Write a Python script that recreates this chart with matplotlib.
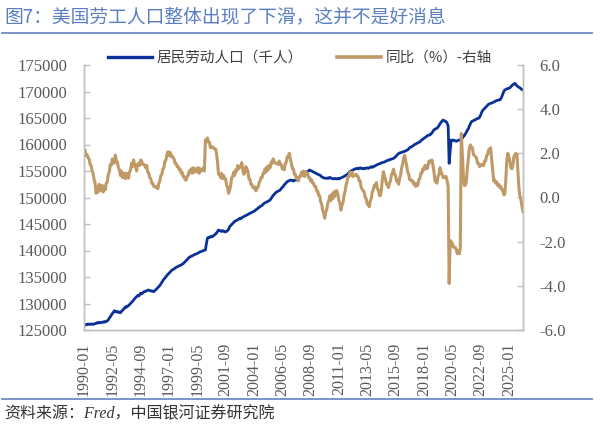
import matplotlib
matplotlib.use('Agg')
import matplotlib.pyplot as plt
from matplotlib.lines import Line2D
import numpy as np

# ---------------- data ----------------
tick_labels = ['1990-01', '1992-05', '1994-09', '1997-01', '1999-05', '2001-09',
               '2004-01', '2006-05', '2008-09', '2011-01', '2013-05', '2015-09',
               '2018-01', '2020-05', '2022-09', '2025-01']

# civilian labor force, thousands, monthly from 1990-01
labor_force = [
    125940, 125900, 126050, 126000, 126150, 126100, 126050, 126150, 126100, 126050, 126150, 126200,  # 1990
    126250, 126380, 126300, 126450, 126350, 126400, 126500, 126450, 126570, 126500, 126650, 126700,  # 1991
    126900, 127260, 127500, 127800, 128100, 128300, 128640, 128450, 128500, 128350, 128450, 128300,  # 1992
    128260, 128500, 128700, 128900, 129100, 129390, 129300, 129500, 129600, 129800, 130000, 130200,  # 1993
    130400, 130660, 130900, 131100, 131300, 131500, 131400, 131700, 131920, 131800, 132000, 132200,  # 1994
    132200, 132350, 132400, 132500, 132550, 132450, 132350, 132400, 132300, 132230, 132450, 132600,  # 1995
    132800, 133000, 133180, 133400, 133700, 134000, 134300, 134600, 134800, 135060, 135300, 135500,  # 1996
    135700, 135900, 136100, 136320, 136400, 136500, 136700, 136800, 136900, 137000, 137100, 137200,  # 1997
    137260, 137400, 137500, 137700, 137900, 138100, 138300, 138500, 138700, 138830, 138900, 139000,  # 1998
    139100, 139200, 139300, 139350, 139450, 139550, 139650, 139780, 139800, 139900, 140000, 140050,  # 1999
    140090, 141300, 142300, 142500, 142400, 142600, 142700, 142600, 142800, 142920, 143100, 143300,  # 2000
    143600, 143870, 143800, 143700, 143600, 143750, 143650, 143500, 143550, 143600, 143800, 144000,  # 2001
    144500, 144700, 144900, 145130, 145300, 145500, 145600, 145700, 145800, 145900, 146080, 146000,  # 2002
    146200, 146300, 146400, 146500, 146600, 146700, 146800, 146900, 147030, 147100, 147200, 147300,  # 2003
    147400, 147500, 147700, 147800, 148000, 148100, 148290, 148400, 148500, 148700, 148900, 149000,  # 2004
    149100, 149200, 149300, 149400, 149530, 149800, 150100, 150400, 150600, 150800, 151000, 151100,  # 2005
    151200, 151300, 151420, 151700, 151900, 152100, 152400, 152600, 152800, 153000, 153100, 153200,  # 2006
    153300, 153250, 153200, 153100, 153250, 153300, 153300, 153500, 153700, 153900, 154100, 154300,  # 2007
    154500, 154400, 154600, 154700, 154800, 154900, 155000, 155190, 155100, 155000, 154900, 154800,  # 2008
    154700, 154600, 154500, 154400, 154300, 154250, 154100, 153900, 153800, 153700, 153650, 153620,  # 2009
    153620, 153700, 153600, 153800, 153700, 153600, 153550, 153500, 153600, 153550, 153500, 153600,  # 2010
    153500, 153620, 153700, 153800, 153850, 153950, 154100, 154200, 154250, 154500, 154700, 154900,  # 2011
    155000, 155100, 155200, 155300, 155400, 155450, 155500, 155400, 155500, 155600, 155500, 155450,  # 2012
    155500, 155400, 155500, 155550, 155600, 155500, 155600, 155700, 155810, 155700, 155800, 155900,  # 2013
    156000, 156100, 156200, 156300, 156350, 156440, 156500, 156600, 156650, 156700, 156800, 156900,  # 2014
    157000, 157050, 157100, 157200, 157250, 157300, 157390, 157500, 157700, 157900, 158100, 158300,  # 2015
    158400, 158450, 158500, 158600, 158640, 158700, 158800, 158900, 159000, 159200, 159400, 159500,  # 2016
    159600, 159700, 159900, 160000, 160100, 160200, 160300, 160400, 160500, 160700, 160900, 161000,  # 2017
    161170, 161300, 161400, 161600, 161700, 161800, 161800, 162000, 162200, 162500, 162740, 162900,  # 2018
    163000, 163060, 163300, 163600, 163900, 164200, 164400, 164620, 164500, 164400, 164300, 164000,  # 2019
    163500, 156440, 158800, 160850, 160700, 160850, 160800, 160700, 160600, 160700, 160800, 160850,  # 2020
    160850, 161000, 161200, 161480, 161700, 162000, 162300, 162700, 163000, 163500, 163900, 164300,  # 2021
    164400, 164500, 164600, 164700, 164800, 164900, 164940, 165100, 165500, 166000, 166400, 166600,  # 2022
    166820, 167000, 167200, 167400, 167600, 167700, 167760, 167800, 167900, 168000, 168100, 168200,  # 2023
    168300, 168350, 168400, 168400, 168600, 169000, 169500, 170000, 170280, 170400, 170500, 170550,  # 2024
    170600, 170700, 170900, 171100, 171300, 171400, 171540, 171300, 171100, 170910, 170800, 170700,  # 2025
    170500, 170400, 170280,                                                                          # 2026
]

# year-over-year change, %
yoy = [
    2.05, 2.15, 1.90, 1.95, 1.80, 1.75, 1.50, 1.45, 1.20, 1.10, 0.80, 0.64,  # 1990
    0.19, 0.50, 0.25, 0.60, 0.45, 0.30, 0.55, 0.25, 0.50, 0.35, 0.65, 0.70,  # 1991
    1.05, 1.15, 1.50, 1.45, 1.75, 1.70, 1.55, 1.92, 1.65, 1.60, 1.35, 1.25,  # 1992
    1.00, 1.20, 0.90, 1.00, 1.10, 0.85, 1.10, 0.90, 0.87, 1.15, 1.25, 1.55,  # 1993
    1.40, 1.70, 1.50, 1.40, 1.20, 1.50, 1.55, 1.45, 1.70, 1.65, 1.50, 1.50,  # 1994
    1.45, 1.35, 1.45, 1.15, 1.10, 0.90, 0.85, 0.65, 0.65, 0.50, 0.50, 0.45,  # 1995
    0.50, 0.40, 0.65, 0.75, 1.00, 1.05, 1.30, 1.35, 1.65, 1.70, 1.95, 2.07,  # 1996
    1.90, 2.05, 1.85, 1.90, 1.80, 1.75, 1.55, 1.55, 1.40, 1.40, 1.25, 1.30,  # 1997
    1.10, 1.15, 0.95, 0.95, 0.80, 0.79, 0.95, 1.00, 1.20, 1.15, 1.30, 1.10,  # 1998
    1.35, 1.15, 1.30, 1.30, 1.15, 1.35, 1.10, 1.30, 1.20, 1.25, 1.35, 1.20,  # 1999
    2.60, 2.50, 2.70, 2.55, 2.50, 2.25, 2.30, 2.30, 2.25, 2.20, 2.20, 2.00,  # 2000
    1.60, 1.05, 1.05, 0.90, 1.10, 0.85, 1.00, 0.85, 0.85, 0.55, 0.45, 0.19,  # 2001
    0.35, 0.55, 0.90, 0.95, 1.15, 1.00, 1.25, 1.20, 1.45, 1.30, 1.38, 1.42,  # 2002
    1.58, 1.25, 1.05, 1.15, 1.40, 1.28, 1.20, 0.85, 0.82, 0.60, 0.58, 0.45,  # 2003
    0.42, 0.48, 0.30, 0.45, 0.46, 0.65, 0.75, 0.90, 0.90, 1.10, 1.10, 1.30,  # 2004
    1.15, 1.40, 1.25, 1.45, 1.35, 1.60, 1.55, 1.75, 1.60, 1.58, 1.55, 1.52,  # 2005
    1.50, 1.65, 1.50, 1.50, 1.30, 1.28, 1.25, 1.55, 1.60, 1.85, 1.85, 2.00,  # 2006
    1.75, 1.55, 1.30, 1.30, 1.05, 1.05, 0.85, 0.90, 0.75, 0.95, 0.95, 1.15,  # 2007
    1.00, 1.20, 0.95, 1.15, 1.12, 1.10, 0.90, 0.90, 0.75, 0.80, 0.65, 0.64,  # 2008
    0.50, 0.50, 0.30, 0.30, 0.10, 0.08, -0.20, -0.30, -0.60, -0.70, -0.94, -0.65,  # 2009
    -0.55, -0.25, -0.15, 0.08, -0.15, 0.15, -0.05, 0.25, 0.05, 0.30, 0.30, 0.15,  # 2010
    -0.15, -0.25, -0.57, -0.35, -0.25, 0.08, 0.25, 0.55, 0.70, 0.95, 0.95, 1.15,  # 2011
    1.00, 1.15, 0.95, 1.00, 1.00, 1.05, 0.98, 0.95, 0.75, 0.75, 0.45, 0.38,  # 2012
    0.30, 0.25, 0.00, -0.05, -0.30, -0.30, -0.42, -0.15, -0.05, 0.25, 0.35, 0.55,  # 2013
    0.50, 0.68, 0.40, 0.35, 0.10, 0.08, 0.35, 0.85, 1.17, 0.95, 0.85, 0.60,  # 2014
    0.58, 0.45, 0.65, 0.75, 1.05, 1.10, 1.28, 1.05, 1.00, 0.75, 0.75, 0.60,  # 2015
    0.85, 1.00, 1.35, 1.50, 1.80, 1.92, 1.65, 1.45, 1.15, 1.05, 0.80, 0.82,  # 2016
    0.75, 0.75, 0.60, 0.65, 0.50, 0.62, 0.55, 0.80, 0.85, 1.10, 1.10, 1.30,  # 2017
    1.25, 1.45, 1.45, 1.30, 1.40, 1.65, 1.65, 1.60, 1.70, 1.45, 1.15, 0.75,  # 2018
    0.68, 0.65, 0.95, 1.05, 1.35, 1.15, 1.05, 0.90, 0.90, 0.95, 0.95, 0.75,  # 2019
    0.49, -3.90, -1.95, -2.00, -2.05, -2.25, -2.25, -2.25, -2.35, -2.54, -2.40, -2.55,  # 2020
    -2.30, 2.90, 1.95, 1.05, 0.55, 0.55, 0.75, 1.35, 1.75, 2.25, 2.38, 2.25,  # 2021
    2.25, 1.95, 1.90, 1.85, 1.80, 1.55, 1.55, 1.40, 1.45, 1.50, 1.45, 1.45,  # 2022
    1.65, 1.65, 1.90, 1.95, 2.15, 2.20, 2.25, 1.75, 1.25, 0.75, 0.80, 0.65,  # 2023
    0.70, 0.55, 0.60, 0.45, 0.50, 0.35, 0.35, 0.12, 0.15, 0.80, 1.70, 2.00,  # 2024
    1.85, 1.65, 1.35, 1.30, 1.45, 1.85, 1.95, 2.00, 1.95, 1.20, 0.40, 0.05,  # 2025
    -0.10, -0.42, -0.64,                                                     # 2026
]

label_lf = '居民劳动人口（千人）'
label_yoy = '同比（%）-右轴'
title = '图7：美国劳工人口整体出现了下滑，这并不是好消息'
source = '资料来源：Fred，中国银河证券研究院'

# ---------------- style ----------------
BLUE = '#0a3296'
TAN = '#c09a66'
AXIS = '#bfbfbf'
TICKC = '#595959'
HEAD = '#5a7ec2'
cjk = ['Noto Sans CJK SC', 'DejaVu Sans']
num_font = ['Liberation Serif', 'DejaVu Serif']

plt.rcParams['font.family'] = cjk

fig = plt.figure(figsize=(6, 4.32), dpi=100)
W, H = 600, 432
ax = fig.add_axes([84 / W, 1 - 330 / H, 439 / W, 265 / H])
ax2 = ax.twinx()

x = np.arange(len(labor_force))
ax.plot(x, labor_force, color=BLUE, lw=2.0, solid_joinstyle='round')
ax2.plot(x, yoy, color=TAN, lw=2.2, solid_joinstyle='round')

ax.set_xlim(0, len(labor_force) - 1)
ax.set_ylim(125000, 175000)
ax.set_yticks(np.arange(125000, 175001, 5000))
ax2.set_ylim(-6, 6)
ax2.set_yticks(np.arange(-6, 6.01, 2))
ax2.set_yticklabels([f'{v:.1f}' for v in np.arange(-6, 6.01, 2)])

ax.set_xticks(np.arange(len(tick_labels)) * 28)
ax.set_xticklabels(tick_labels, rotation=90, ha='center', va='top')

for a in (ax, ax2):
    a.spines['top'].set_visible(False)
    for s in ('left', 'right', 'bottom'):
        a.spines[s].set_color(AXIS)
        a.spines[s].set_linewidth(1.0)
    a.set_facecolor('none')

ax.tick_params(axis='y', direction='in', length=4, width=1, color=AXIS, pad=12,
               labelsize=12, labelcolor=TICKC)
ax2.tick_params(axis='y', direction='in', length=4, width=1, color=AXIS, pad=12,
                labelsize=12, labelcolor=TICKC)
ax.tick_params(axis='x', length=0, pad=9, labelsize=11.5, labelcolor=TICKC)
for lab in ax.get_yticklabels() + ax2.get_yticklabels() + ax.get_xticklabels():
    lab.set_family(num_font)

# legend
handles = [Line2D([], [], color=BLUE, lw=2.4), Line2D([], [], color=TAN, lw=2.6)]
leg = ax.legend(handles, [label_lf, label_yoy], loc='center left',
                bbox_to_anchor=((108 - 84) / 439, (330 - 58) / 265), ncol=2,
                frameon=False, fontsize=10.5, handlelength=3.0, handletextpad=0.3,
                columnspacing=2.4, borderpad=0, borderaxespad=0)
for t in leg.get_texts():
    t.set_color('#404040')

# header / footer
fig.text(4 / W, 1 - 17 / H, title, fontsize=13.5, color=HEAD, va='center', ha='left')
fig.add_artist(Line2D([2 / W, 592 / W], [1 - 33 / H, 1 - 33 / H], color='#6d8cc6', lw=1.3))
fig.add_artist(Line2D([2 / W, 592 / W], [1 - 399 / H, 1 - 399 / H], color='#6d8cc6', lw=1.3))
fig.text(4 / W, 1 - 414 / H, source, fontsize=11.5, color='#333333', va='center', ha='left',
         style='italic', family=['Liberation Serif', 'Noto Sans CJK SC', 'DejaVu Sans'])

fig.savefig('out.png', dpi=100)
